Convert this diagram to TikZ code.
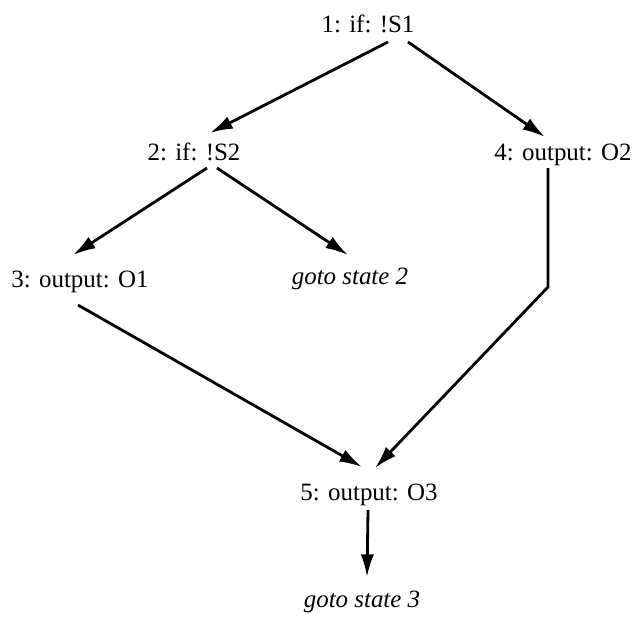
\documentclass[tikz,border=0pt]{standalone}
\usepackage{fontspec}
\setmainfont{Liberation Serif}
\usetikzlibrary{arrows.meta,positioning}

\begin{document}
\begin{tikzpicture}[
	x=0.75pt, y=-0.75pt,
	basic/.style  = {inner sep=0pt, anchor=base, font=\fontsize{18.7}{22}\selectfont},
	stmt/.style   = {basic},
	jump/.style   = {basic, font=\fontsize{18.7}{22}\selectfont\itshape},
	link/.style   = {->, line width=2.1pt},
	>={Latex[length=17pt,width=10pt]}]

	\useasboundingbox (0,0) rectangle (634,619);

	\node[stmt] (n1) at (368,32) {1: if: !S1};
	\node[stmt] (n2) at (194,160) {2: if: !S2};
	\node[stmt] (n4) at (563,160) {4: output: O2};
	\node[stmt] (n3) at (80,287) {3: output: O1};
	\node[jump] (g2) at (350,284) {goto state 2};
	\node[stmt] (n5) at (369,500) {5: output: O3};
	\node[jump] (g3) at (362,607) {goto state 3};

	\draw[link] ([shift={(20,10)}]n1.base) -- ([shift={(16,-27)}]n2.base);
	\draw[link] ([shift={(40,10)}]n1.base) -- ([shift={(-18,-23)}]n4.base);

	\draw[link] ([shift={(13,8)}]n2.base) -- ([shift={(-7,-32)}]n3.base);
	\draw[link] ([shift={(23,8)}]n2.base) -- ([shift={(-2,-29)}]g2.base);

	\draw[link] ([shift={(-2,18)}]n3.base) -- ([shift={(-7,-33)}]n5.base);
	\draw[link] ([shift={(-15,8)}]n4.base) -- ++(0,119) -- ([shift={(6,-32)}]n5.base);

	\draw[link] ([shift={(-1,10)}]n5.base) -- ([shift={(5,-30)}]g3.base);

\end{tikzpicture}
\end{document}
